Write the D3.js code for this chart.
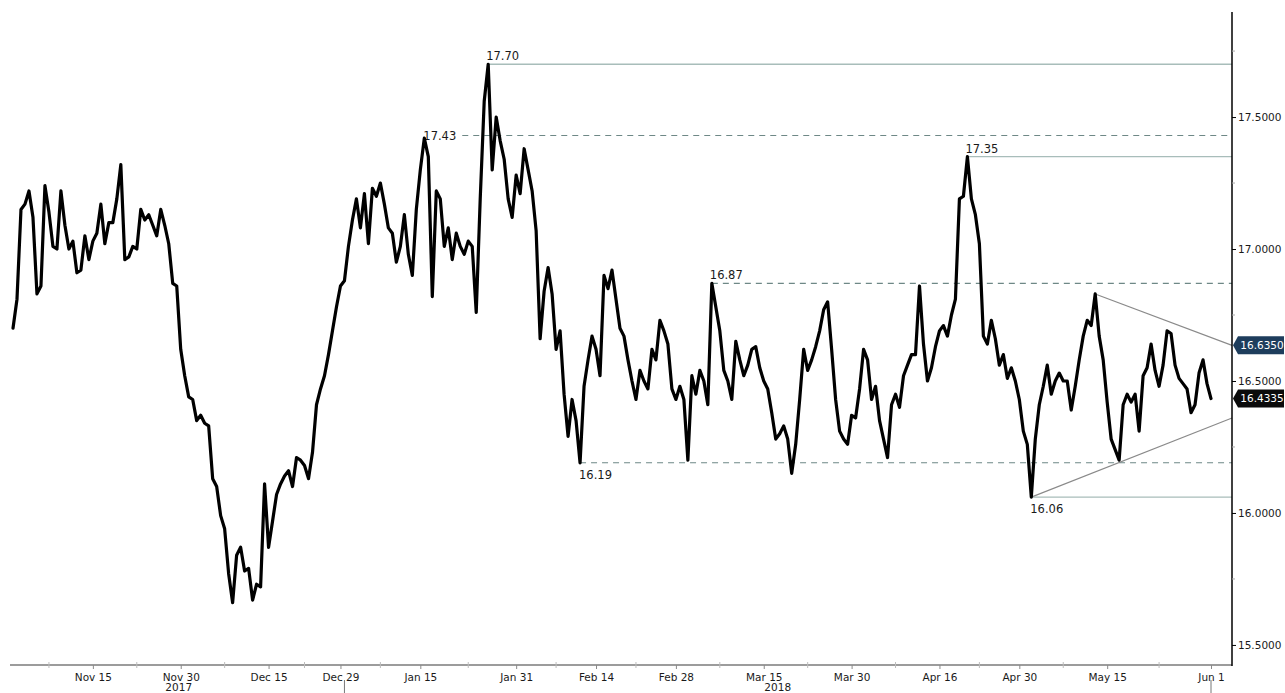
<!DOCTYPE html>
<html>
<head>
<meta charset="utf-8">
<script src="https://cdn.jsdelivr.net/npm/d3@7"></script>
<style>
  html, body { margin: 0; padding: 0; background: #fff; }
  svg { display: block; }
  text { font-family: "DejaVu Sans", Verdana, sans-serif; }
</style>
</head>
<body>
<svg id="chart" width="1285" height="693"></svg>
<script>
// ---------------- DATA ----------------
const firstDay = "2017-11-01";
const lastDay = "2018-06-01";
const holidays = ["2017-12-25", "2018-01-01"];

// two readings per trading day, starting Nov 1 2017
const prices = [
  16.70, 16.81, 17.15, 17.17, 17.22, 17.12, 16.83, 16.86, 17.24, 17.14,
  17.01, 17.00, 17.22, 17.09, 17.00, 17.03, 16.91, 16.92, 17.05, 16.96,
  17.03, 17.06, 17.17, 17.02, 17.10, 17.10, 17.19, 17.32, 16.96, 16.97,
  17.01, 17.00, 17.15, 17.11, 17.13, 17.09, 17.05, 17.15, 17.09, 17.02,
  16.87, 16.86, 16.62, 16.52, 16.44, 16.43, 16.35, 16.37, 16.34, 16.33,
  16.13, 16.10, 15.99, 15.94, 15.77, 15.66, 15.84, 15.87, 15.78, 15.79,
  15.67, 15.73, 15.72, 16.11, 15.87, 15.97, 16.07, 16.11, 16.14, 16.16,
  16.10, 16.21, 16.20, 16.18, 16.13, 16.23, 16.41, 16.47, 16.52, 16.60,
  16.69, 16.78, 16.86, 16.88, 17.01, 17.11, 17.19, 17.08, 17.21, 17.02,
  17.23, 17.20, 17.25, 17.17, 17.08, 17.06, 16.95, 17.01, 17.13, 16.98,
  16.90, 17.15, 17.30, 17.42, 17.35, 16.82, 17.22, 17.19, 17.01, 17.08,
  16.96, 17.06, 17.01, 16.98, 17.03, 17.01, 16.76, 17.19, 17.56, 17.70,
  17.30, 17.50, 17.41, 17.34, 17.19, 17.12, 17.28, 17.21, 17.38, 17.30,
  17.22, 17.07, 16.66, 16.84, 16.93, 16.83, 16.62, 16.69, 16.45, 16.29,
  16.43, 16.35, 16.19, 16.48, 16.58, 16.67, 16.62, 16.52, 16.90, 16.85,
  16.92, 16.81, 16.70, 16.67, 16.58, 16.50, 16.43, 16.54, 16.50, 16.47,
  16.62, 16.58, 16.73, 16.69, 16.64, 16.47, 16.43, 16.48, 16.43, 16.20,
  16.52, 16.45, 16.54, 16.50, 16.41, 16.87, 16.78, 16.69, 16.54, 16.50,
  16.43, 16.65, 16.58, 16.52, 16.56, 16.62, 16.63, 16.55, 16.50, 16.47,
  16.38, 16.28, 16.30, 16.33, 16.28, 16.15, 16.26, 16.43, 16.62, 16.54,
  16.58, 16.63, 16.69, 16.77, 16.80, 16.62, 16.43, 16.31, 16.28, 16.26,
  16.37, 16.36, 16.47, 16.62, 16.58, 16.43, 16.48, 16.35, 16.28, 16.21,
  16.41, 16.45, 16.40, 16.52, 16.56, 16.60, 16.60, 16.86, 16.64, 16.50,
  16.55, 16.63, 16.69, 16.71, 16.67, 16.75, 16.81, 17.19, 17.20, 17.35,
  17.19, 17.13, 17.02, 16.67, 16.64, 16.73, 16.66, 16.56, 16.60, 16.51,
  16.55, 16.50, 16.43, 16.31, 16.26, 16.06, 16.28, 16.41, 16.48, 16.56,
  16.45, 16.50, 16.53, 16.50, 16.50, 16.39, 16.48, 16.58, 16.67, 16.73,
  16.71, 16.83, 16.67, 16.58, 16.42, 16.28, 16.24, 16.20, 16.41, 16.45,
  16.42, 16.45, 16.31, 16.52, 16.55, 16.64, 16.54, 16.48, 16.56, 16.69,
  16.68, 16.56, 16.51, 16.49, 16.47, 16.38, 16.41, 16.53, 16.58, 16.49,
  16.4335
];

const xTickDates  = ["2017-11-15","2017-11-30","2017-12-15","2017-12-29","2018-01-15","2018-01-31","2018-02-14",
                     "2018-02-28","2018-03-15","2018-03-30","2018-04-16","2018-04-30","2018-05-15","2018-06-01"];
const xTickLabels = ["Nov 15","Nov 30","Dec 15","Dec 29","Jan 15","Jan 31","Feb 14",
                     "Feb 28","Mar 15","Mar 30","Apr 16","Apr 30","May 15","Jun 1"];
const years = ["2017", "2018"];
const yTicks = [15.5, 16.0, 16.5, 17.0, 17.5];
const yMinorTicks = [15.75, 16.25, 16.75, 17.25, 17.75];

// horizontal levels: value, reading index where it starts, line kind, label side
const levelValues = [17.70, 17.43, 17.35, 16.87, 16.19, 16.06];
const levelLabels = ["17.70", "17.43", "17.35", "16.87", "16.19", "16.06"];
const levelStart  = [119, 103, 239, 175, 142, 255];
const levelDashed = [false, true, false, true, true, false];
const levelSide   = ["above", "left", "above", "above", "below", "below"];

// converging triangle: start reading index/value, value where it meets the axis
const triUpper = { start: 271, from: 16.83, to: 16.635 };
const triLower = { start: 255, from: 16.06, to: 16.36 };

// last-value callouts
const callValues = [16.635, 16.4335];
const callLabels = ["16.6350", "16.4335"];
const callColors = ["#1e3d5c", "#0b0b0b"];

// ---------------- CHART ----------------
const axisX = 1232, plotTop = 12, plotBottom = 665;
const svg = d3.select("#chart");

// trading-day calendar
const parse = d3.timeParse("%Y-%m-%d");
const fmt = d3.timeFormat("%Y-%m-%d");
const tradingDays = [];
for (let d = parse(firstDay); d <= parse(lastDay); d = d3.timeDay.offset(d, 1)) {
  const wd = d.getDay();
  if (wd === 0 || wd === 6) continue;
  if (holidays.includes(fmt(d))) continue;
  tradingDays.push(fmt(d));
}
const dayIndex = new Map(tradingDays.map((d, i) => [d, i]));

const x = d3.scaleLinear().domain([0, tradingDays.length - 1]).range([13, 1211]);
const y = d3.scaleLinear().domain([15.424, 17.898]).range([plotBottom, plotTop]);
const xr = i => x(i / 2); // reading index -> pixel

// level lines
levelValues.forEach((v, k) => {
  const sx = xr(levelStart[k]);
  const yy = y(v);
  const t = svg.append("text")
    .attr("font-size", 11.5).attr("fill", "#1a1a1a")
    .text(levelLabels[k]);
  let lineStart = sx;
  if (levelSide[k] === "above") {
    t.attr("x", sx - 2).attr("y", yy - 4);
  } else if (levelSide[k] === "below") {
    t.attr("x", sx - 1).attr("y", yy + 16);
  } else {
    t.attr("x", sx - 1).attr("y", yy).attr("dy", "0.35em");
    lineStart = sx + t.node().getComputedTextLength() + 5;
  }
  svg.append("line")
    .attr("x1", lineStart).attr("x2", axisX)
    .attr("y1", yy).attr("y2", yy)
    .attr("stroke", levelDashed[k] ? "#6e8886" : "#a8bdba")
    .attr("stroke-width", levelDashed[k] ? 1.1 : 1.3)
    .attr("stroke-dasharray", levelDashed[k] ? "6,5" : null);
});

// triangle lines
[triUpper, triLower].forEach(t => {
  svg.append("line")
    .attr("x1", xr(t.start)).attr("y1", y(t.from))
    .attr("x2", axisX).attr("y2", y(t.to))
    .attr("stroke", "#8a8a8a").attr("stroke-width", 1.1);
});

// price line
const line = d3.line().x((d, i) => xr(i)).y(d => y(d));
svg.append("path")
  .datum(prices)
  .attr("d", line)
  .attr("fill", "none")
  .attr("stroke", "#000")
  .attr("stroke-width", 3.2)
  .attr("stroke-linejoin", "round")
  .attr("stroke-linecap", "round");

// bottom axis
svg.append("line")
  .attr("x1", 10).attr("x2", axisX)
  .attr("y1", plotBottom).attr("y2", plotBottom)
  .attr("stroke", "#9c9c9c").attr("stroke-width", 2);

const tickPos = xTickDates.map(d => x(dayIndex.get(d)));
const xAxis = d3.axisBottom(x)
  .tickValues(xTickDates.map(d => dayIndex.get(d)))
  .tickFormat((d, i) => xTickLabels[i])
  .tickSize(4).tickPadding(5);
const gx = svg.append("g").attr("transform", `translate(0,${plotBottom})`).call(xAxis);
gx.select(".domain").remove();
gx.selectAll(".tick line").attr("stroke", "#8a8a8a");
gx.selectAll(".tick text").attr("font-family", "DejaVu Sans").attr("font-size", 10.5).attr("fill", "#1a1a1a");

// minor x ticks midway between labels
const mids = [];
for (let k = 0; k < tickPos.length - 1; k++) mids.push((tickPos[k] + tickPos[k + 1]) / 2);
mids.unshift(tickPos[0] - (tickPos[1] - tickPos[0]) / 2);
svg.selectAll(".xminor").data(mids).enter().append("line")
  .attr("x1", d => d).attr("x2", d => d)
  .attr("y1", plotBottom - 3).attr("y2", plotBottom + 3)
  .attr("stroke", "#bdbdbd").attr("stroke-width", 1);

// year labels and separators
const yearEnd = dayIndex.get("2017-12-29") + 0.5;
const yearSpans = [[0, yearEnd], [yearEnd, tradingDays.length - 1]];
years.forEach((yr, k) => {
  svg.append("text")
    .attr("x", (x(yearSpans[k][0]) + x(yearSpans[k][1])) / 2)
    .attr("y", 691).attr("text-anchor", "middle")
    .attr("font-size", 10.5).attr("fill", "#1a1a1a").text(yr);
});
[x(yearEnd), x(tradingDays.length - 1)].forEach(px => {
  svg.append("line").attr("x1", px).attr("x2", px)
    .attr("y1", 680).attr("y2", 693)
    .attr("stroke", "#777").attr("stroke-width", 1);
});

// right axis
const yAxis = d3.axisRight(y).tickValues(yTicks).tickFormat(d3.format(".4f")).tickSize(4).tickPadding(2);
const gy = svg.append("g").attr("transform", `translate(${axisX},0)`).call(yAxis);
gy.select(".domain").remove();
gy.selectAll(".tick line").attr("stroke", "#000");
gy.selectAll(".tick text").attr("font-family", "DejaVu Sans").attr("font-size", 10.5).attr("fill", "#1a1a1a");
svg.append("line")
  .attr("x1", axisX).attr("x2", axisX)
  .attr("y1", plotTop).attr("y2", plotBottom + 1)
  .attr("stroke", "#000").attr("stroke-width", 1.5);
svg.selectAll(".yminor").data(yMinorTicks.filter(v => y(v) > plotTop)).enter().append("line")
  .attr("x1", axisX).attr("x2", axisX + 3)
  .attr("y1", d => y(d)).attr("y2", d => y(d))
  .attr("stroke", "#aaa");

// callouts
callValues.forEach((v, k) => {
  const yy = y(v);
  const x0 = axisX + 1, x1 = axisX + 6, x2 = 1284, h = 9;
  svg.append("path")
    .attr("d", `M${x0},${yy} L${x1},${yy - h} L${x2},${yy - h} L${x2},${yy + h} L${x1},${yy + h} Z`)
    .attr("fill", callColors[k]);
  svg.append("text")
    .attr("x", (x1 + x2) / 2 + 1).attr("y", yy).attr("dy", "0.36em")
    .attr("text-anchor", "middle").attr("font-size", 10.5)
    .attr("fill", "#fff").text(callLabels[k]);
});
</script>
</body>
</html>
